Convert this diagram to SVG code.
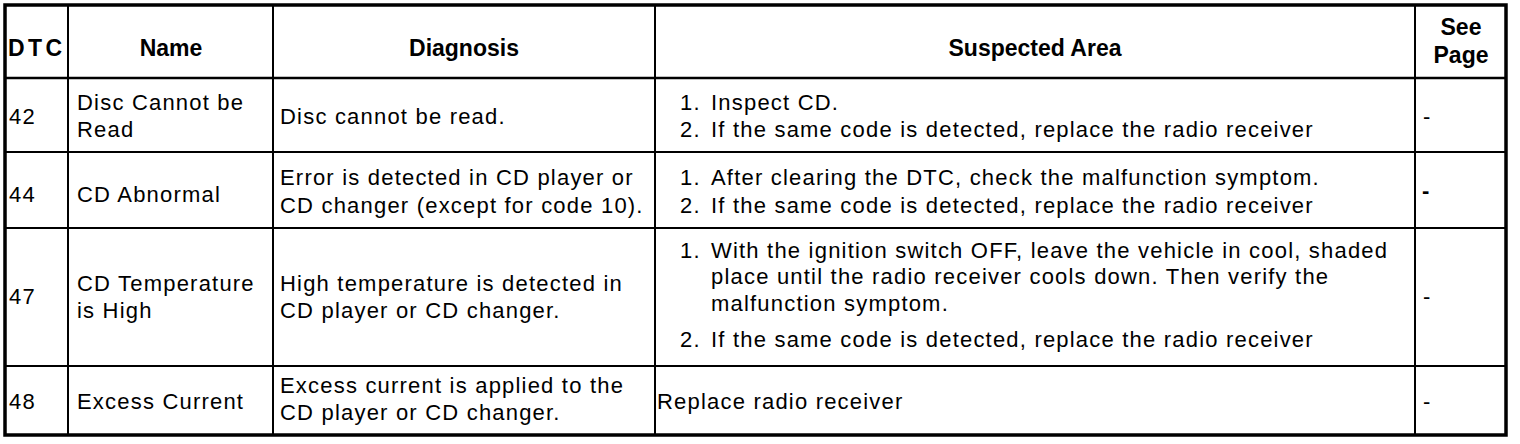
<svg xmlns="http://www.w3.org/2000/svg" width="1520" height="444" viewBox="0 0 1520 444">
<style>
.t{font-family:"Liberation Sans",Arial,sans-serif;font-size:22px;letter-spacing:1.2px;fill:#000}
.h{font-family:"Liberation Sans",Arial,sans-serif;font-size:23px;font-weight:bold;fill:#000}
.c{text-anchor:middle}
.ln{stroke:#000;stroke-width:2;fill:none}
.hl{stroke:#000;stroke-width:2.5;fill:none}
.bd{stroke:#000;stroke-width:3.5;fill:none}
</style>
<rect width="1520" height="444" fill="#fff"/>
<g id="grid">
<line class="ln" x1="68" y1="5" x2="68" y2="435"/>
<line class="ln" x1="273" y1="5" x2="273" y2="435"/>
<line class="ln" x1="655" y1="5" x2="655" y2="435"/>
<line class="ln" x1="1415" y1="5" x2="1415" y2="435"/>
<line class="hl" x1="5" y1="78" x2="1506" y2="78"/>
<line class="ln" x1="5" y1="152" x2="1506" y2="152"/>
<line class="ln" x1="5" y1="228" x2="1506" y2="228"/>
<line class="ln" x1="5" y1="366" x2="1506" y2="366"/>
<rect class="bd" x="5" y="5" width="1501" height="430"/>
</g>
<g id="header">
<text class="h" x="8" y="56" textLength="54" lengthAdjust="spacing">DTC</text>
<text class="h c" x="171" y="56">Name</text>
<text class="h c" x="464" y="56">Diagnosis</text>
<text class="h c" x="1035" y="56">Suspected Area</text>
<text class="h c" x="1461" y="35">See</text>
<text class="h c" x="1461" y="63">Page</text>
</g>
<g id="row-42">
<text class="t" x="9" y="124">42</text>
<text class="t" x="77" y="110">Disc Cannot be</text>
<text class="t" x="77" y="137">Read</text>
<text class="t" x="280" y="124">Disc cannot be read.</text>
<text class="t" x="680" y="110">1.</text>
<text class="t" x="711" y="110">Inspect CD.</text>
<text class="t" x="680" y="137">2.</text>
<text class="t" x="711" y="137">If the same code is detected, replace the radio receiver</text>
<text class="t" x="1423" y="124">-</text>
</g>
<g id="row-44">
<text class="t" x="9" y="202">44</text>
<text class="t" x="77" y="202">CD Abnormal</text>
<text class="t" x="280" y="185">Error is detected in CD player or</text>
<text class="t" x="280" y="213">CD changer (except for code 10).</text>
<text class="t" x="680" y="185">1.</text>
<text class="t" x="711" y="185">After clearing the DTC, check the malfunction symptom.</text>
<text class="t" x="680" y="213">2.</text>
<text class="t" x="711" y="213">If the same code is detected, replace the radio receiver</text>
<text class="t" x="1422" y="198" font-weight="bold">-</text>
</g>
<g id="row-47">
<text class="t" x="9" y="304">47</text>
<text class="t" x="77" y="291">CD Temperature</text>
<text class="t" x="77" y="318">is High</text>
<text class="t" x="280" y="291">High temperature is detected in</text>
<text class="t" x="280" y="318">CD player or CD changer.</text>
<text class="t" x="680" y="258">1.</text>
<text class="t" x="711" y="258">With the ignition switch OFF, leave the vehicle in cool, shaded</text>
<text class="t" x="711" y="284">place until the radio receiver cools down. Then verify the</text>
<text class="t" x="711" y="311">malfunction symptom.</text>
<text class="t" x="680" y="347">2.</text>
<text class="t" x="711" y="347">If the same code is detected, replace the radio receiver</text>
<text class="t" x="1423" y="304">-</text>
</g>
<g id="row-48">
<text class="t" x="9" y="409">48</text>
<text class="t" x="77" y="409">Excess Current</text>
<text class="t" x="280" y="393">Excess current is applied to the</text>
<text class="t" x="280" y="420">CD player or CD changer.</text>
<text class="t" x="657" y="409">Replace radio receiver</text>
<text class="t" x="1423" y="409">-</text>
</g>
</svg>
